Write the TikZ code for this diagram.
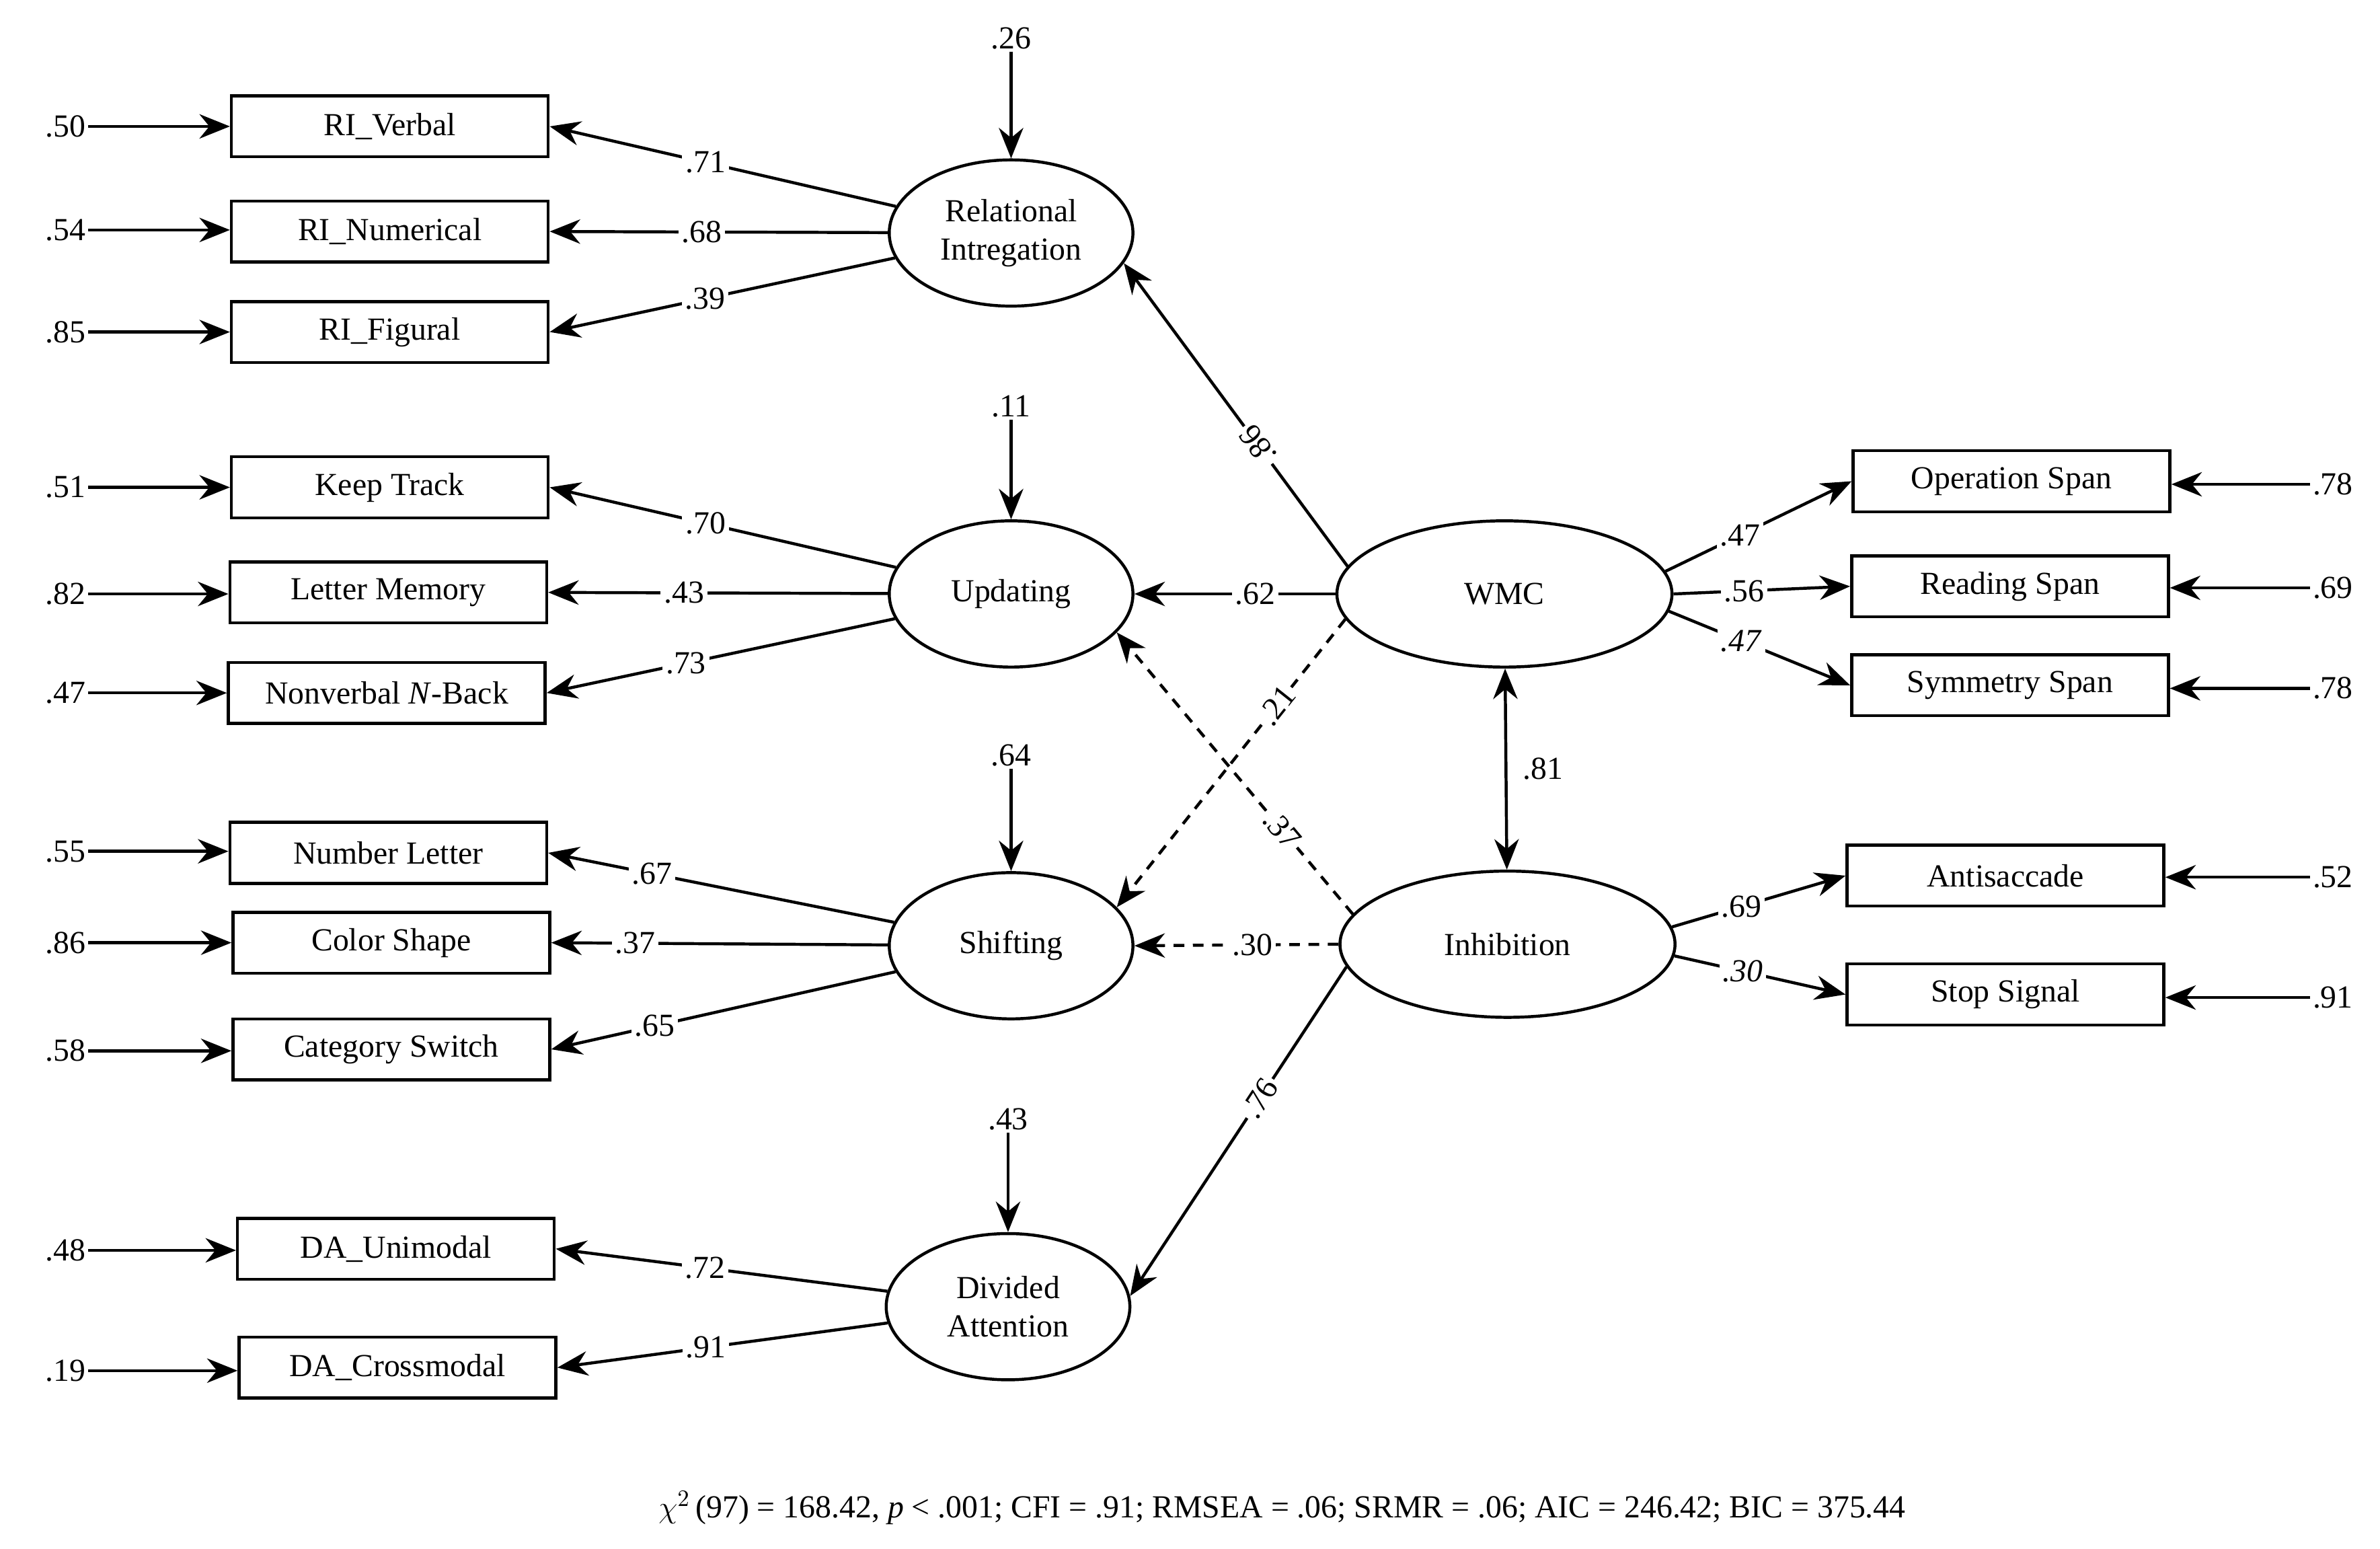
\documentclass[tikz,border=0pt]{standalone}
\usepackage{fontspec}
\setmainfont{Liberation Serif}
\usetikzlibrary{arrows.meta,shapes.geometric}
\begin{document}
\begin{tikzpicture}[x=0.025cm,y=-0.025cm,
  every node/.style={font=\fontsize{15}{18}\selectfont},
  box/.style={draw,line width=1.4pt,minimum width=5.2cm,minimum height=1cm,inner sep=0pt},
  lat/.style={draw,ellipse,line width=1.4pt,minimum width=4cm,minimum height=2.4cm,align=center,inner sep=0pt},
  big/.style={lat,minimum width=5.5cm},
  ar/.style={line width=1.4pt,-{Stealth[length=5mm,width=4mm]}},
  dar/.style={ar,dashed,dash pattern=on 5pt off 4pt},
  lab/.style={fill=white,inner sep=1.5pt},
  er/.style={inner sep=1pt}]
\useasboundingbox (0,0) rectangle (1563,1017);
% left boxes
\node[box] (rv) at (256,83) {RI\_Verbal};
\node[box] (rn) at (256,152) {RI\_Numerical};
\node[box] (rf) at (256,218) {RI\_Figural};
\node[box] (kt) at (256,320) {Keep Track};
\node[box] (lm) at (255,389) {Letter Memory};
\node[box] (nb) at (254,455) {Nonverbal \textit{N}-Back};
\node[box] (nl) at (255,560) {Number Letter};
\node[box] (cs) at (257,619) {Color Shape};
\node[box] (cw) at (257,689) {Category Switch};
\node[box] (du) at (260,820) {DA\_Unimodal};
\node[box] (dc) at (261,898) {DA\_Crossmodal};
% latents
\node[lat] (ri) at (664,153) {Relational\\Intregation};
\node[lat] (up) at (664,390) {Updating};
\node[lat] (sh) at (664,621) {Shifting};
\node[lat] (da) at (662,858) {Divided\\Attention};
\node[big] (wmc) at (988,390) {WMC};
\node[big] (inh) at (990,620) {Inhibition};
% right boxes
\node[box] (os) at (1321,316) {Operation Span};
\node[box] (rs) at (1320,385) {Reading Span};
\node[box] (ss) at (1320,450) {Symmetry Span};
\node[box] (as) at (1317,575) {Antisaccade};
\node[box] (st) at (1317,653) {Stop Signal};
% left errors
\foreach \n/\v/\y in {rv/.50/83,rn/.54/151,rf/.85/218,kt/.51/320,lm/.82/390,nb/.47/455,nl/.55/559,cs/.86/619,cw/.58/690,du/.48/821,dc/.19/900}{
  \node[er] (e\n) at (43,\y) {\v};
  \draw[ar] (e\n) -- (\n.west|-e\n);
}
% right errors
\foreach \n/\v/\y in {os/.78/318,rs/.69/386,ss/.78/452,as/.52/576,st/.91/655}{
  \node[er] (e\n) at (1532,\y) {\v};
  \draw[ar] (e\n) -- (\n.east|-e\n);
}
% latent disturbances
\foreach \n/\v/\y in {ri/.26/25,up/.11/267,sh/.64/496,da/.43/735}{
  \node[er] (d\n) at (\n.north|-0,\y) {\v};
  \draw[ar] (d\n) -- (\n.north);
}
% loadings
\draw[ar] (ri) -- node[lab,pos=0.55]{.71} (rv.east);
\draw[ar] (ri) -- node[lab,pos=0.55]{.68} (rn.east);
\draw[ar] (ri) -- node[lab,pos=0.55]{.39} (rf.east);
\draw[ar] (up) -- node[lab,pos=0.55]{.70} (kt.east);
\draw[ar] (up) -- node[lab,pos=0.6]{.43} (lm.east);
\draw[ar] (up) -- node[lab,pos=0.6]{.73} (nb.east);
\draw[ar] (sh) -- node[lab,pos=0.7]{.67} (nl.east);
\draw[ar] (sh) -- node[lab,pos=0.75]{.37} (cs.east);
\draw[ar] (sh) -- node[lab,pos=0.7]{.65} (cw.east);
\draw[ar] (da) -- node[lab,pos=0.55]{.72} (du.east);
\draw[ar] (da) -- node[lab,pos=0.55]{.91} (dc.east);
\draw[ar] (wmc.8) -- node[lab,pos=0.4]{.47} (os.west);
\draw[ar] (wmc.east) -- node[lab,pos=0.4]{.56} (rs.west);
\draw[ar] (wmc.-6) -- node[lab,pos=0.4]{\textit{.47}} (ss.west);
\draw[ar] (inh.6) -- node[lab,pos=0.4]{.69} (as.west);
\draw[ar] (inh.-4) -- node[lab,pos=0.4]{\textit{.30}} (st.west);
% structural
\draw[ar] (wmc.170) -- node[lab,pos=0.4,sloped,rotate=180]{.86} (ri.-15);
\draw[ar] (wmc.west) -- node[lab,pos=0.4]{.62} (up.east);
\draw[dar] (wmc.189) -- node[lab,pos=0.3,sloped]{.21} (sh.20);
\draw[dar] (inh.169) -- node[lab,pos=0.3,sloped]{.37} (up.-20);
\draw[dar] (inh.west) -- node[lab,pos=0.42]{.30} (sh.east);
\draw[ar] (inh.188) -- node[lab,pos=0.4,sloped]{.76} (da.5);
\draw[line width=1.4pt,{Stealth[length=5mm,width=4mm]}-{Stealth[length=5mm,width=4mm]}] (wmc) -- node[right=4pt]{.81} (inh);
\node (fit) at (842,990) {$\chi^{2}$\,(97) = 168.42, \textit{p} < .001; CFI = .91; RMSEA = .06; SRMR = .06; AIC = 246.42; BIC = 375.44};
\end{tikzpicture}
\end{document}
